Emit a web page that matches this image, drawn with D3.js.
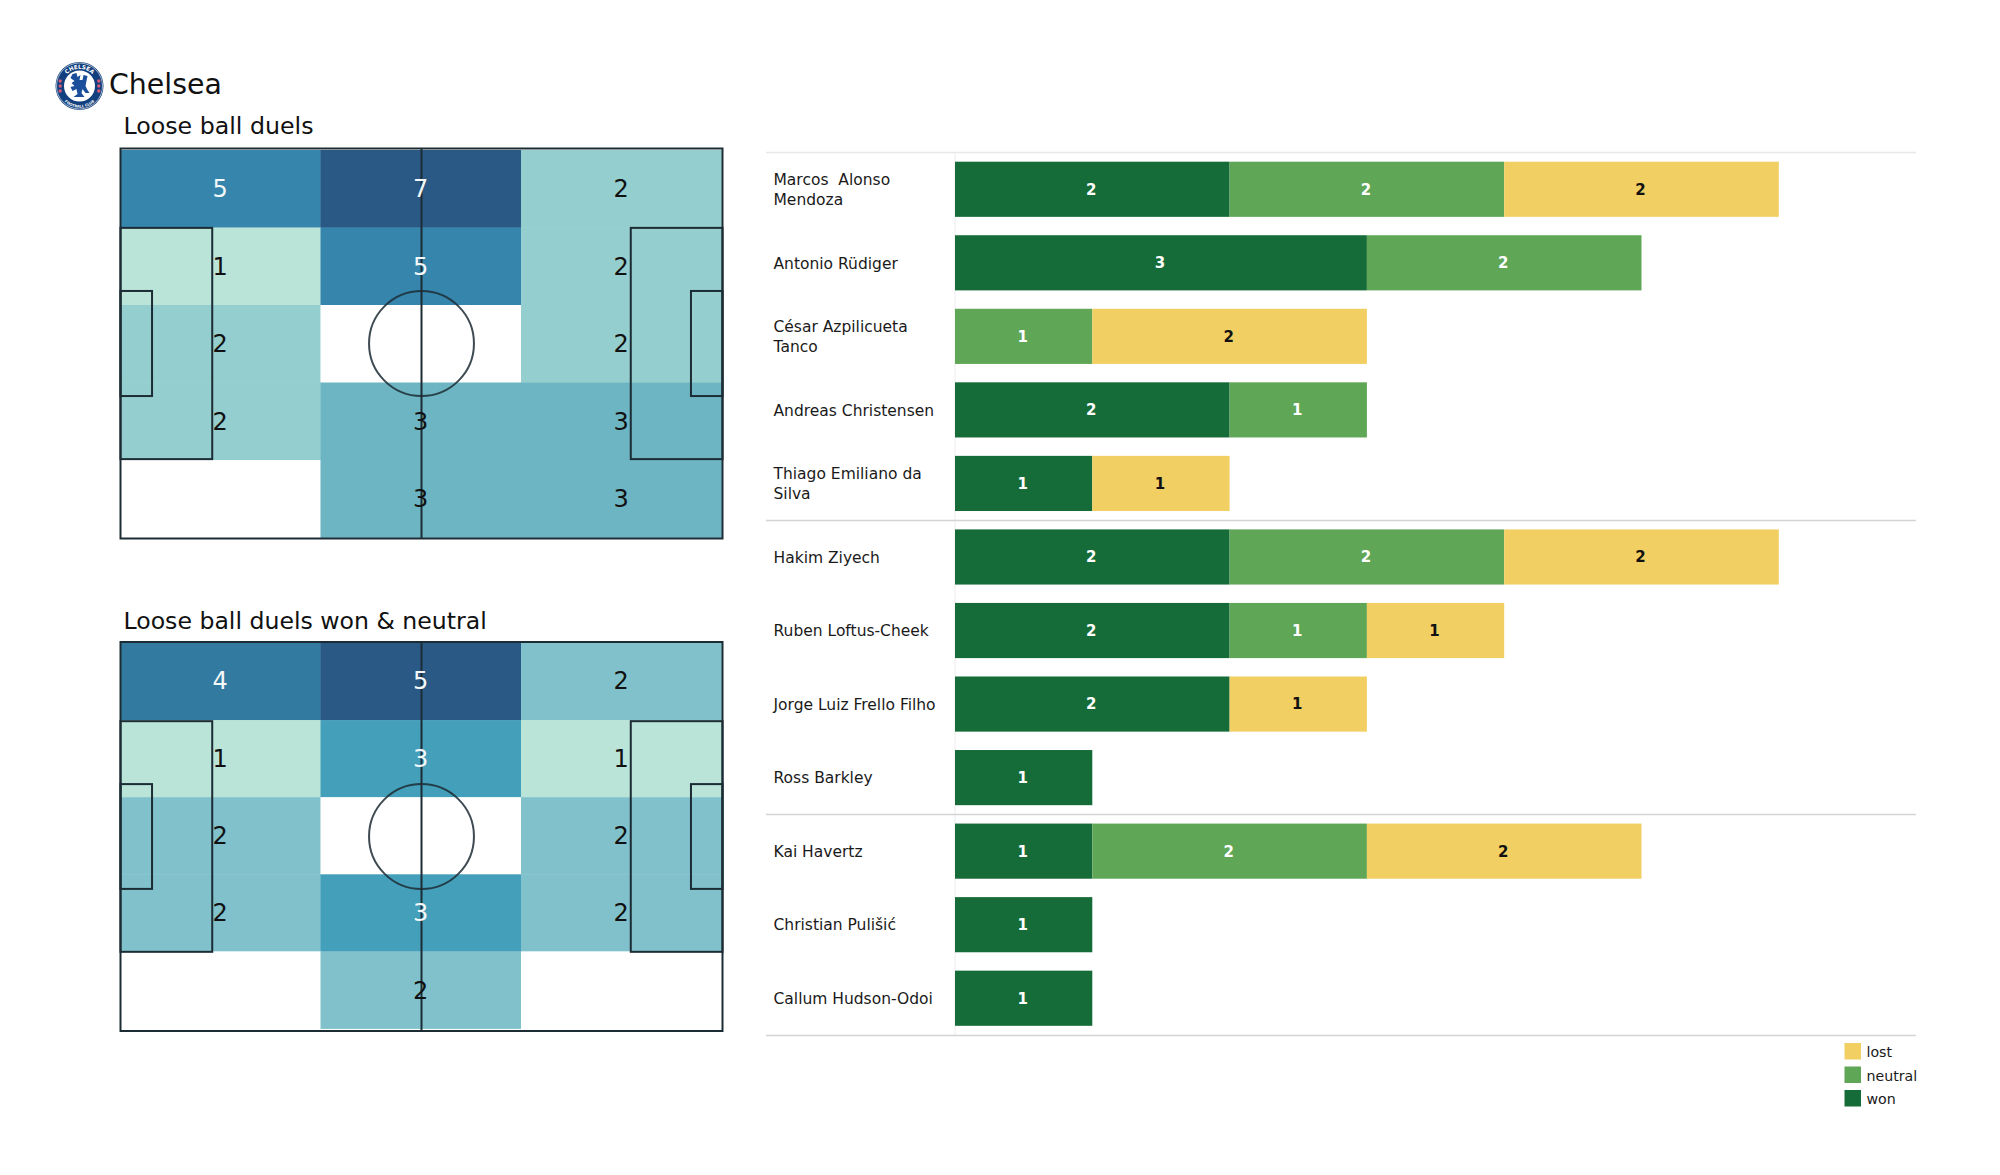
<!DOCTYPE html>
<html><head><meta charset="utf-8">
<script src="https://cdnjs.cloudflare.com/ajax/libs/d3/7.8.5/d3.min.js"></script>
<style>html,body{margin:0;background:#fff}svg{display:block}text{font-family:"DejaVu Sans",sans-serif}</style>
</head><body><svg id="c" width="2000" height="1175"></svg>
<script>
const teamName = "Chelsea";
const pitchTitles = ["Loose ball duels", "Loose ball duels won & neutral"];
const duelsAll = [[5,7,2],[1,5,2],[2,0,2],[2,3,3],[0,3,3]];
const duelsWon = [[4,5,2],[1,3,1],[2,0,2],[2,3,2],[0,2,0]];
const players = ["Marcos  Alonso\nMendoza","Antonio Rüdiger","César Azpilicueta\nTanco","Andreas Christensen","Thiago Emiliano da\nSilva","Hakim Ziyech","Ruben Loftus-Cheek","Jorge Luiz Frello Filho","Ross Barkley","Kai Havertz","Christian Pulišić","Callum Hudson-Odoi"];
const won     = [2,3,0,2,1,2,2,2,1,1,1,1];
const neutral = [2,2,1,1,0,2,1,0,0,2,0,0];
const lost    = [2,0,2,0,1,2,1,1,0,2,0,0];
const groupEnds = [4,8,11];
const legendNames = ["lost","neutral","won"];

const svg = d3.select("#c");
const ink = "#1c2c34";
const heat1 = d3.scaleOrdinal([0,1,2,3,5,7],["#ffffff","#bbe4d9","#95cece","#6db5c2","#3585ac","#2b5986"]);
const heat2 = d3.scaleOrdinal([0,1,2,3,4,5],["#ffffff","#bbe4d9","#80c1cb","#439fba","#337aa1","#2b5986"]);

function pitch(m, color, top, bottom, lineTop, lineBottom, title, titleY, titleSize, numDy){
  const x = d3.scaleLinear().domain([0,105]).range([120.5,722.5]);
  const yCell = d3.scaleBand().domain(d3.range(5)).range([top,bottom]);
  const y = d3.scaleLinear().domain([0,68]).range([lineTop,lineBottom]);
  const xCell = d3.scaleBand().domain(d3.range(3)).range([120,721.5]);
  const g = svg.append("g");
  g.append("text").attr("x",123.5).attr("y",titleY).attr("font-size",titleSize).attr("fill","#111").text(title);
  const cells = m.flatMap((r,i)=>r.map((v,j)=>({v,i,j})));
  g.selectAll("rect.cell").data(cells).join("rect").attr("class","cell")
    .attr("x",d=>xCell(d.j)).attr("y",d=>yCell(d.i))
    .attr("width",xCell.bandwidth()+.4).attr("height",yCell.bandwidth()+.4)
    .attr("fill",d=>color(d.v));
  const line = g.append("g").attr("fill","none").attr("stroke",ink).attr("stroke-width",2);
  line.append("rect").attr("x",x(0)).attr("y",y(0)).attr("width",x(105)-x(0)).attr("height",y(68)-y(0));
  line.append("line").attr("x1",x(52.5)).attr("x2",x(52.5)).attr("y1",y(0)).attr("y2",y(68));
  line.append("circle").attr("cx",x(52.5)).attr("cy",y(34)).attr("r",x(9.15)-x(0)).attr("opacity",.85);
  [[0,16],[105,89]].forEach(([a,b])=>{
    line.append("rect").attr("x",x(Math.min(a,b))).attr("width",Math.abs(x(b)-x(a))).attr("y",y(13.84)).attr("height",y(54.16)-y(13.84));
  });
  [[0,5.5],[105,99.5]].forEach(([a,b])=>{
    line.append("rect").attr("x",x(Math.min(a,b))).attr("width",Math.abs(x(b)-x(a))).attr("y",y(24.84)).attr("height",y(43.16)-y(24.84));
  });
  g.selectAll("text.n").data(cells.filter(d=>d.v>0)).join("text").attr("class","n")
    .attr("x",d=>xCell(d.j)+xCell.bandwidth()/2).attr("y",d=>yCell(d.i)+yCell.bandwidth()/2+(d.i==0?numDy:0))
    .attr("dy","0.36em").attr("text-anchor","middle").attr("font-size",24)
    .attr("fill",d=>d3.lab(color(d.v)).l<65?"#f4f8f8":"#111").text(d=>d.v);
}
pitch(duelsAll,heat1,150,537.5,148.5,538.5,pitchTitles[0],134,23.7,0);
pitch(duelsWon,heat2,643,1028.5,642,1031,pitchTitles[1],628.5,23.6,-1.5);

// crest
const crest = svg.append("g").attr("transform","translate(79.5,86)");
crest.append("circle").attr("r",24).attr("fill","#123f7d");
crest.append("circle").attr("r",23).attr("fill","none").attr("stroke","#dfe6f0").attr("stroke-width",.7);
crest.append("circle").attr("r",15.5).attr("fill","#fff");
crest.append("path").attr("fill","#1b4f9c")
  .attr("d","M-7,-12 L-3,-13 L-2,-9 L1,-11 L0,-6 L3,-6 L4,-11 L8,-10 L7,-5 L6,0 L8,4 L10,7 L6,7 L3,3 L2,7 L5,11 L-6,11 L-2,8 L-3,3 L-7,5 L-9,1 L-5,0 L-8,-3 L-5,-5 L-9,-8 Z");
[-1,1].forEach(s=>[-5,0,5].forEach(o=>crest.append("circle").attr("cx",s*19.3).attr("cy",o).attr("r",1.7).attr("fill","#d8587a")));
const defs = svg.append("defs");
defs.append("path").attr("id","ringTop").attr("d","M-16,-6 A17,17 0 0 1 16,-6");
defs.append("path").attr("id","ringBot").attr("d","M-20,8 A21.5,21.5 0 0 0 20,8");
crest.append("text").attr("font-size",5.6).attr("font-weight","bold").attr("fill","#fff").attr("text-anchor","middle")
  .append("textPath").attr("href","#ringTop").attr("startOffset","50%").text("CHELSEA");
crest.append("text").attr("font-size",3.6).attr("font-weight","bold").attr("fill","#fff").attr("text-anchor","middle")
  .append("textPath").attr("href","#ringBot").attr("startOffset","50%").text("FOOTBALL CLUB");
svg.append("text").attr("x",109).attr("y",94).attr("font-size",28.4).attr("fill","#111").text(teamName);

// bars
const x = d3.scaleLinear().domain([0,1]).range([955,1092.3]);
const y = d3.scaleBand().domain(d3.range(players.length)).range([152.5,1035]).paddingInner(0.25).paddingOuter(0.125);
const colors = {won:"#166c38",neutral:"#60a657",lost:"#f2cf63"};
const textColors = {won:"#fff",neutral:"#fff",lost:"#111"};
const keys = ["won","neutral","lost"];
const rowData = players.map((p,i)=>({i,p,won:won[i],neutral:neutral[i],lost:lost[i]}));
const stacked = d3.stack().keys(keys)(rowData);
const rules = svg.append("g");
rules.append("line").attr("x1",955).attr("x2",955).attr("y1",152).attr("y2",1036).attr("stroke","#ececec").attr("stroke-width",1);
rules.selectAll("line.r").data([-1,...groupEnds]).join("line").attr("class","r")
  .attr("x1",766).attr("x2",1916)
  .attr("y1",d=>Math.round(y(d+1<12?d+1:11)-(d+1<12?9.5:-64.5))+.5).attr("y2",d=>Math.round(y(d+1<12?d+1:11)-(d+1<12?9.5:-64.5))+.5)
  .attr("stroke",(d,i)=>i==0?"#e8e8e8":"#d4d4d4").attr("stroke-width",1.4);
const series = svg.selectAll("g.s").data(stacked).join("g").attr("class","s").attr("fill",d=>colors[d.key]);
series.selectAll("rect").data(d=>d.filter(e=>e[1]>e[0])).join("rect")
  .attr("x",d=>x(d[0])).attr("width",d=>x(d[1])-x(d[0])).attr("y",d=>y(d.data.i)).attr("height",y.bandwidth());
series.selectAll("text").data(d=>d.filter(e=>e[1]>e[0]).map(e=>Object.assign(e,{key:d.key}))).join("text")
  .attr("x",d=>(x(d[0])+x(d[1]))/2-1).attr("y",d=>y(d.data.i)+y.bandwidth()/2).attr("dy","0.36em")
  .attr("text-anchor","middle").attr("font-size",15).attr("font-weight","bold")
  .attr("fill",d=>textColors[d.key]).text(d=>d[1]-d[0]);
const labels = svg.selectAll("text.pl").data(rowData).join("text").attr("class","pl")
  .attr("font-size",15.5).attr("fill","#1a1a1a").attr("xml:space","preserve");
labels.each(function(d){
  const ls=d.p.split("\n"), c=y(d.i)+y.bandwidth()/2;
  d3.select(this).selectAll("tspan").data(ls).join("tspan").attr("x",773.5)
    .attr("y",(l,k)=>c+5.7+(k-(ls.length-1)/2)*20.2).style("white-space","pre").text(l=>l);
});
// legend
const ly = d3.scaleBand().domain(legendNames).range([1040,1110.5]).paddingInner(0);
const leg = svg.selectAll("g.l").data(legendNames).join("g").attr("class","l");
leg.append("rect").attr("x",1844.5).attr("y",d=>ly(d)+3).attr("width",16.5).attr("height",16.5).attr("fill",d=>colors[d]);
leg.append("text").attr("x",1866.5).attr("y",d=>ly(d)+17).attr("font-size",14.2).attr("fill","#1a1a1a").text(d=>d);
</script></body></html>
